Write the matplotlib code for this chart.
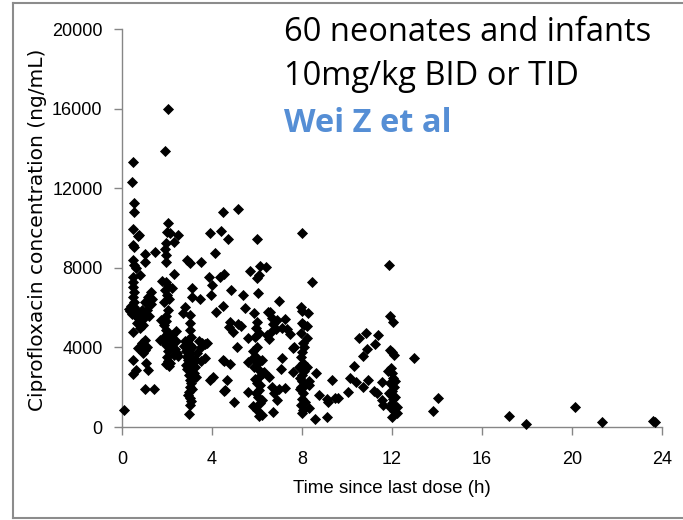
import matplotlib
matplotlib.use("Agg")
import matplotlib.pyplot as plt
from matplotlib.lines import Line2D

# ── data (time since last dose in h, concentration in ng/mL) ────────────────
pts_0_1h = [
    (0.10, 870),
    (0.50, 13330), (0.46, 12330), (0.53, 11240), (0.53, 10820), (0.50, 9930),
    (0.70, 9600), (0.50, 9150), (0.55, 9050), (1.02, 8690), (0.50, 8390),
    (0.55, 8140), (1.47, 8810), (0.60, 7990), (0.80, 7640), (0.50, 7550),
    (0.48, 7300), (0.50, 7050), (0.52, 6800), (0.50, 6550), (0.55, 6300),
    (1.29, 6800), (1.17, 6550), (1.00, 6300), (1.30, 6180), (0.30, 5930),
    (0.40, 6100), (0.55, 6050), (0.65, 5800), (0.60, 5600), (0.70, 5500),
    (0.75, 5300), (0.85, 5200), (0.95, 5450), (0.92, 5150), (0.80, 5000),
    (0.65, 5250), (1.05, 5700), (1.10, 5900), (0.45, 5700), (0.35, 5850),
    (0.75, 5750), (0.90, 5900), (1.20, 5600), (0.50, 4790), (1.00, 4370),
    (0.90, 4220), (0.70, 3970), (1.00, 3850), (0.95, 3720), (0.50, 3370),
    (1.08, 3210), (1.17, 2860), (0.60, 2860), (0.50, 2660), (1.00, 1910),
    (1.40, 1910), (1.10, 4000), (1.00, 8300), (0.74, 9650), (1.35, 6450),
]

pts_2h = [
    (1.91, 13890), (2.05, 16000), (2.06, 10270), (2.00, 9810), (2.15, 9750),
    (2.50, 9650), (2.30, 9310), (1.95, 9250), (1.92, 8950), (1.95, 8650),
    (1.95, 8310), (2.33, 7690), (1.76, 7350), (1.95, 7300), (2.05, 7100),
    (1.90, 6900), (2.00, 6650), (2.10, 6450), (1.85, 6300), (2.20, 7000),
    (2.05, 5880), (1.95, 5600), (1.95, 5350), (1.85, 5130), (1.95, 4870),
    (2.05, 4700), (1.90, 4550), (1.80, 4370), (1.69, 4370), (2.10, 4450),
    (2.25, 4200), (2.15, 4000), (2.35, 3900), (2.45, 3700), (2.50, 3550),
    (2.05, 3800), (2.00, 3500), (2.05, 3300), (2.10, 3050), (2.20, 4600),
    (2.40, 4300), (2.30, 3600), (1.95, 4100), (2.15, 3200), (2.40, 4800),
    (1.75, 5400), (1.94, 3160),
]

pts_3_5h = [
    (2.87, 8390), (3.00, 8230), (3.50, 8310), (3.10, 6980), (3.10, 6550),
    (2.80, 6050), (2.70, 5730), (3.00, 5640), (3.00, 5210), (3.45, 6450),
    (3.00, 4870), (3.05, 4540), (2.95, 4370), (3.02, 4120), (2.98, 3870),
    (3.00, 3700), (3.05, 3530), (2.95, 3370), (3.02, 3120), (3.00, 2860),
    (2.97, 2610), (3.03, 2360), (3.00, 2030), (2.98, 1780), (3.00, 1440),
    (3.02, 1110), (2.97, 640), (3.10, 4000), (3.12, 3300), (3.10, 2700),
    (3.08, 2200), (2.90, 2900), (2.92, 3600), (3.15, 2450), (3.05, 1300),
    (2.95, 1600), (3.10, 1900), (3.40, 4300), (3.50, 4000), (3.35, 3700),
    (3.30, 3350), (3.25, 3000), (3.20, 2700), (3.55, 4200), (3.28, 2500),
    (2.80, 4300), (2.75, 4050), (2.85, 3800), (2.90, 3500), (2.85, 3100),
    (3.49, 3330), (3.68, 4170), (3.90, 2360), (4.05, 2510), (3.91, 9760),
    (4.40, 9850), (4.13, 8730), (3.87, 7520), (3.99, 7140), (3.96, 6630),
    (4.36, 7550), (4.55, 7690), (4.50, 10820), (5.17, 10940), (4.73, 9430),
    (4.84, 6880), (4.50, 6100), (4.16, 5760), (3.76, 4240), (3.69, 3450),
    (4.50, 3370), (4.80, 3170), (4.65, 2360), (4.58, 1860), (4.99, 1270),
    (4.80, 5290), (4.75, 5050), (5.15, 5200), (5.30, 5100), (4.95, 4790),
    (5.10, 4040), (4.55, 3330), (4.55, 1820),
]

pts_6_7h = [
    (5.99, 9430), (5.69, 7860), (6.13, 8090), (6.39, 8020), (6.10, 7640),
    (6.00, 7470), (5.39, 6630), (6.03, 6750), (5.47, 5960), (5.88, 5710),
    (6.50, 5760), (6.98, 6350), (6.65, 5500), (6.70, 5200), (6.90, 5400),
    (7.10, 5000), (6.85, 4900), (6.60, 4750), (6.45, 4600), (6.55, 4400),
    (7.24, 5410), (7.35, 4900), (7.46, 4680), (6.59, 5770), (6.00, 5300),
    (5.95, 4950), (6.10, 4700), (5.90, 4500), (5.58, 4460), (7.61, 3950),
    (7.65, 4000), (6.00, 4000), (5.95, 3530), (6.05, 3200), (6.08, 2860),
    (6.10, 2530), (6.00, 2200), (6.10, 1860), (6.05, 1520), (6.15, 1190),
    (6.00, 850), (6.10, 560), (5.80, 3800), (5.85, 3000), (5.90, 2400),
    (6.20, 3350), (6.25, 2700), (6.15, 2100), (5.95, 1700), (5.80, 3450),
    (6.20, 1350), (5.80, 1060), (6.33, 2780), (7.12, 3450), (7.07, 2900),
    (7.61, 2780), (5.58, 1780), (5.58, 3250), (6.65, 2030), (6.75, 1700),
    (6.87, 1360), (7.24, 1940), (6.72, 770), (6.53, 2490), (6.98, 1900),
    (6.20, 620),
]

pts_8_9h = [
    (7.99, 9730), (8.46, 7300), (7.96, 6050), (8.00, 5850), (8.25, 5710),
    (8.10, 5130), (8.20, 5070), (7.96, 4710), (8.20, 4460), (8.00, 5220),
    (8.05, 4220), (8.00, 3780), (7.95, 3500), (8.05, 3200), (7.98, 2900),
    (8.02, 2600), (8.00, 2300), (7.95, 2000), (8.05, 1700), (8.00, 1400),
    (7.97, 1100), (8.03, 850), (8.00, 690), (8.10, 2800), (8.15, 2100),
    (7.90, 1900), (7.85, 3000), (8.12, 1250), (7.92, 2450), (8.08, 4000),
    (8.20, 3000), (8.61, 2700), (8.30, 2300), (8.30, 2100), (8.30, 940),
    (8.58, 390), (8.75, 1610), (9.10, 1400), (9.15, 1270), (9.45, 1450),
    (9.59, 1450), (9.10, 520), (9.35, 2360),
]

pts_10_24h = [
    (10.03, 1780), (10.13, 2450), (10.39, 2280), (10.33, 3080), (10.53, 4460),
    (10.83, 4710), (10.73, 3570), (10.88, 3900), (11.24, 4170), (11.39, 4620),
    (10.70, 2030), (10.95, 2360), (11.20, 1820), (11.35, 1690), (11.57, 2280),
    (11.57, 1360), (11.60, 1110), (11.88, 8140), (11.93, 5580), (12.03, 5290),
    (11.90, 3870), (12.00, 3750), (12.10, 3620), (11.95, 2950), (12.00, 2700),
    (12.05, 2450), (11.90, 2200), (12.10, 2000), (12.00, 1800), (11.95, 1600),
    (12.05, 1400), (12.00, 1200), (11.92, 1000), (12.08, 800), (12.00, 520),
    (12.15, 1500), (12.20, 1000), (12.12, 2300), (11.85, 1700), (11.80, 2800),
    (12.22, 700), (12.98, 3450), (13.84, 800), (14.06, 1470), (17.21, 550),
    (17.96, 140), (20.13, 990), (21.32, 250), (23.61, 320), (23.70, 240),
]

x_ticks = [0, 4, 8, 12, 16, 20, 24]
y_ticks = [0, 4000, 8000, 12000, 16000, 20000]
notes = ["60 neonates and infants", "10mg/kg BID or TID", "Wei Z et al"]

all_pts = pts_0_1h + pts_2h + pts_3_5h + pts_6_7h + pts_8_9h + pts_10_24h
times = [p[0] for p in all_pts]
concs = [p[1] for p in all_pts]

# ── plotting ────────────────────────────────────────────────────────────────
W, H = 683, 520
fig = plt.figure(figsize=(W / 100, H / 100), dpi=100)
ax = fig.add_axes([122 / W, 1 - 427 / H, 540 / W, 398 / H])

ax.scatter(times, concs, marker="D", s=32, color="black", linewidths=0, zorder=3, clip_on=False)

ax.set_xlim(0, 24)
ax.set_ylim(0, 20000)
ax.set_xticks(x_ticks)
ax.set_yticks(y_ticks)

axis_grey = "#868686"
for side in ("top", "right"):
    ax.spines[side].set_visible(False)
for side in ("left", "bottom"):
    ax.spines[side].set_color(axis_grey)
    ax.spines[side].set_linewidth(1.0)

tick_font = "Liberation Sans"
ax.tick_params(axis="both", color=axis_grey, length=6, width=1.0, labelsize=13)
ax.tick_params(axis="x", pad=11)
ax.tick_params(axis="y", pad=8)
for lab in ax.get_xticklabels() + ax.get_yticklabels():
    lab.set_family(tick_font)

ax.set_xlabel("Time since last dose (h)", family=tick_font, fontsize=13.5, labelpad=9)
fig.text(38 / W, 1 - 230 / H, "Ciprofloxacin concentration (ng/mL)", rotation=90,
         ha="center", va="center", fontsize=14.5, family="DejaVu Sans")

# annotation block
fig.text(284 / W, 1 - 41 / H, notes[0], fontsize=23.5, family="Open Sans", va="baseline")
fig.text(284 / W, 1 - 85 / H, notes[1], fontsize=23.5, family="Open Sans", va="baseline")
fig.text(284 / W, 1 - 132 / H, notes[2], fontsize=23.5, family="Open Sans", weight="bold",
         color="#558ED5", va="baseline")

# grey frame round the figure (left, top, bottom)
frame_kw = dict(color="#8c8c8c", linewidth=1.5, transform=fig.transFigure)
fig.add_artist(Line2D([13 / W, 13 / W], [1 - 3 / H, 1 - 518 / H], **frame_kw))
fig.add_artist(Line2D([13 / W, 1], [1 - 3 / H, 1 - 3 / H], **frame_kw))
fig.add_artist(Line2D([13 / W, 1], [1 - 518 / H, 1 - 518 / H], **frame_kw))

fig.savefig("out.png", dpi=100)
